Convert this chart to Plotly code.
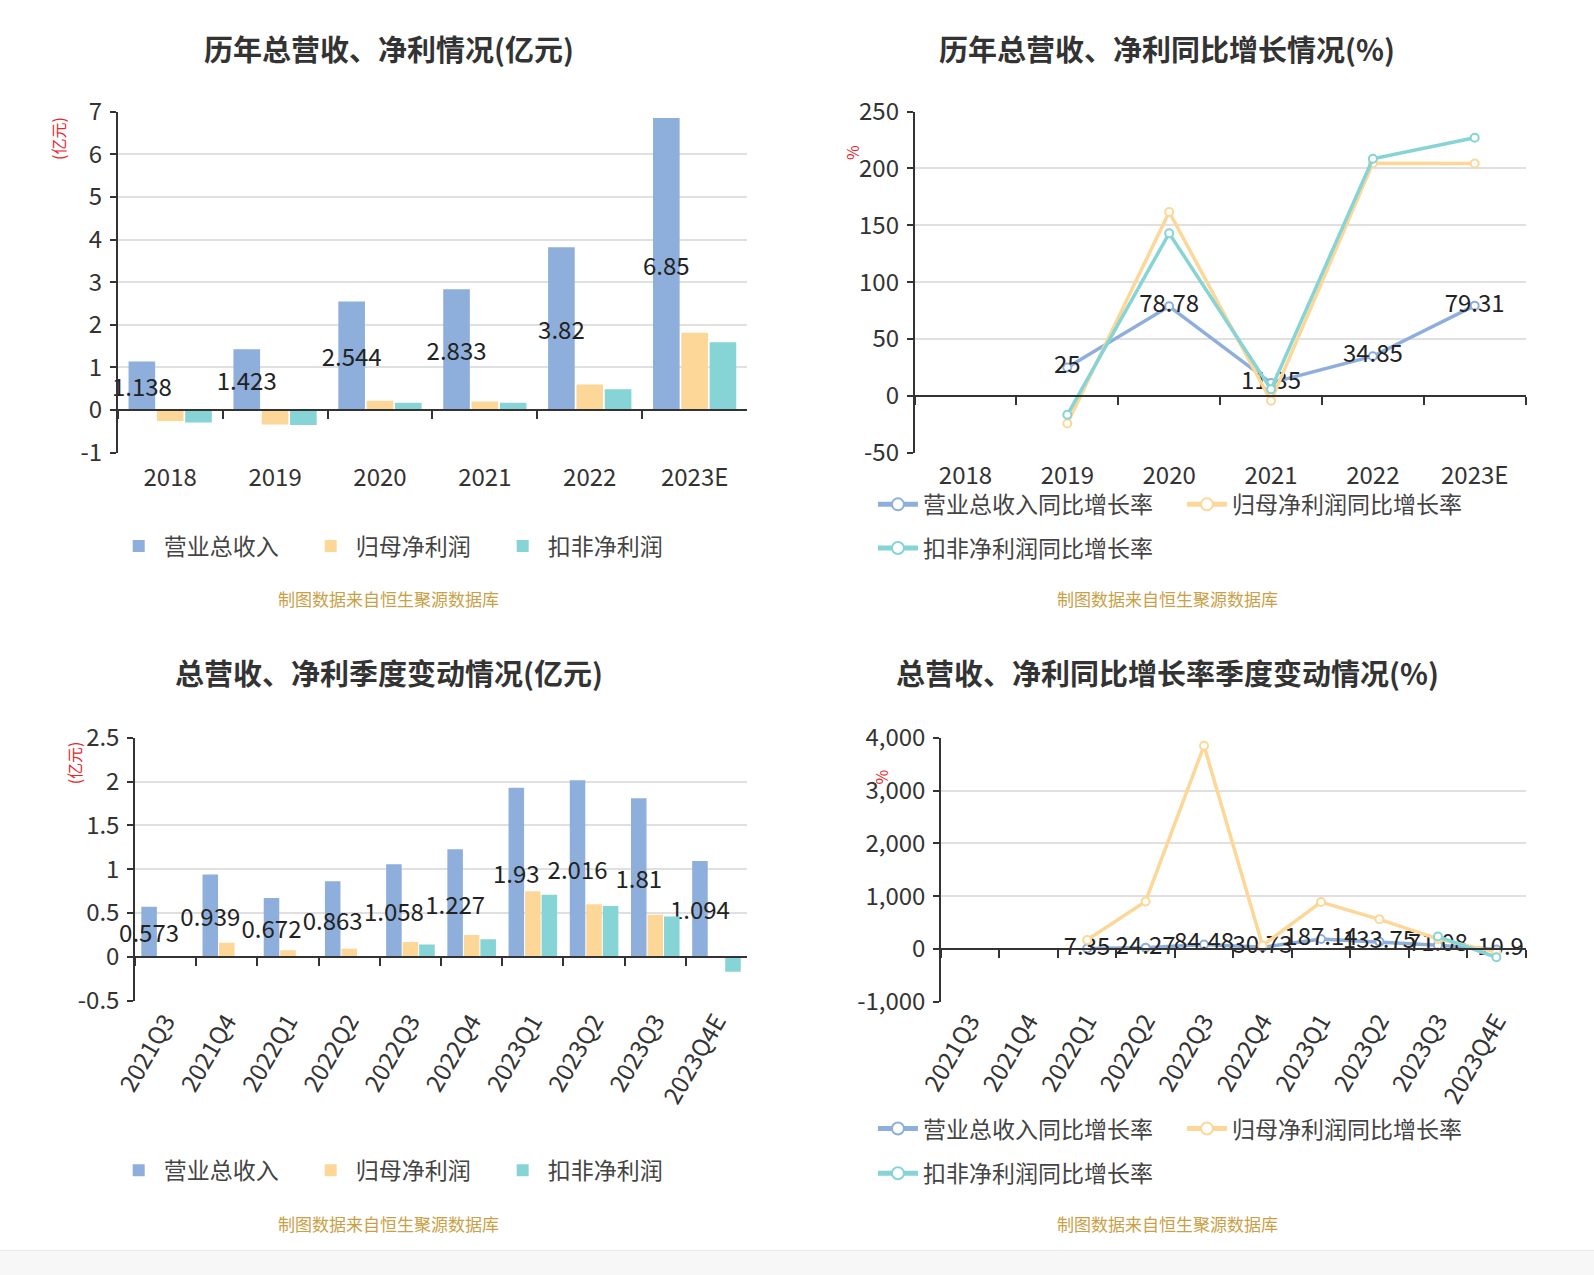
import plotly.graph_objects as go

# ---------------- data ----------------
years = ["2018", "2019", "2020", "2021", "2022", "2023E"]
rev_year = [1.138, 1.423, 2.544, 2.833, 3.82, 6.85]
np_year = [-0.26, -0.34, 0.22, 0.20, 0.60, 1.81]
dnp_year = [-0.29, -0.35, 0.17, 0.17, 0.49, 1.59]

rev_year_g = [None, 25, 78.78, 11.35, 34.85, 79.31]
np_year_g = [None, -24.3, 161.7, -4.4, 204.7, 204.4]
dnp_year_g = [None, -16.7, 143.0, 5.8, 208.5, 227.0]

quarters = ["2021Q3", "2021Q4", "2022Q1", "2022Q2", "2022Q3", "2022Q4",
            "2023Q1", "2023Q2", "2023Q3", "2023Q4E"]
rev_q = [0.573, 0.939, 0.672, 0.863, 1.058, 1.227, 1.93, 2.016, 1.81, 1.094]
np_q = [0.0, 0.16, 0.075, 0.094, 0.17, 0.25, 0.75, 0.60, 0.48, -0.01]
dnp_q = [0.0, 0.0, 0.0, 0.0, 0.14, 0.20, 0.71, 0.58, 0.46, -0.17]

rev_q_g = [None, None, 7.35, 24.27, 84.48, 30.73, 187.14, 133.75, 71.08, -10.9]
np_q_g = [None, None, 169, 900, 3850, 64, 888, 561, 190, -60]
dnp_q_g = [None, None, None, None, None, None, None, None, 235, -158]

bar_names = ["营业总收入", "归母净利润", "扣非净利润"]
line_names = ["营业总收入同比增长率", "归母净利润同比增长率", "扣非净利润同比增长率"]

ytl_vals = [-1, 0, 1, 2, 3, 4, 5, 6, 7]
ytl_text = ["-1", "0", "1", "2", "3", "4", "5", "6", "7"]
ytr_vals = [-50, 0, 50, 100, 150, 200, 250]
ytr_text = ["-50", "0", "50", "100", "150", "200", "250"]
ybl_vals = [-0.5, 0, 0.5, 1, 1.5, 2, 2.5]
ybl_text = ["-0.5", "0", "0.5", "1", "1.5", "2", "2.5"]
ybr_vals = [-1000, 0, 1000, 2000, 3000, 4000]
ybr_text = ["-1,000", "0", "1,000", "2,000", "3,000", "4,000"]

titles = ["历年总营收、净利情况(亿元)", "历年总营收、净利同比增长情况(%)",
          "总营收、净利季度变动情况(亿元)", "总营收、净利同比增长率季度变动情况(%)"]
source = "制图数据来自恒生聚源数据库"

# ---------------- style ----------------
W, H = 1618, 1294          # page size (rendered slightly scaled down)
RW, RH = 1594, 1275        # reference pixel frame used for placement
COLORS = ["#8eaedb", "#fdd798", "#86d4d6"]
FONT = "Noto Sans CJK SC, sans-serif"
AX = "#333333"
GRID = "#e0e0e0"
TICKF = dict(family=FONT, size=24, color="#333")
LABF = dict(family=FONT, size=24, color="#222")


def fx(px):
    return px / RW


def fy(py):
    return 1 - py / RH


fig = go.Figure()

# top-left bars
for name, vals, c in zip(bar_names, [rev_year, np_year, dnp_year], COLORS):
    kw = {}
    if name == bar_names[0]:
        kw = dict(text=[f"{v:g}" for v in vals], textposition="inside",
                  insidetextanchor="middle", textangle=0, constraintext="none",
                  textfont=LABF, insidetextfont=LABF)
    fig.add_trace(go.Bar(x=years, y=vals, name=name, marker=dict(color=c, line=dict(width=0)),
                         cliponaxis=False, xaxis="x", yaxis="y", legend="legend", **kw))

# top-right lines
legs_top = ["legend2", "legend2", "legend5"]
for i, (name, vals, c) in enumerate(zip(line_names, [rev_year_g, np_year_g, dnp_year_g], COLORS)):
    kw = {}
    mode = "lines+markers"
    if i == 0:
        mode = "lines+markers+text"
        kw = dict(text=[("" if v is None else f"{v:g}") for v in vals],
                  textposition="middle center", textfont=LABF)
    fig.add_trace(go.Scatter(x=years, y=vals, name=name, mode=mode,
                             line=dict(color=c, width=3.5),
                             marker=dict(symbol="circle", size=8, color="white",
                                         line=dict(color=c, width=2)),
                             cliponaxis=False,
                             xaxis="x2", yaxis="y2", legend=legs_top[i], **kw))

# bottom-left bars
for name, vals, c in zip(bar_names, [rev_q, np_q, dnp_q], COLORS):
    kw = {}
    if name == bar_names[0]:
        kw = dict(text=[f"{v:g}" for v in vals], textposition="inside",
                  insidetextanchor="middle", textangle=0, constraintext="none",
                  textfont=LABF, insidetextfont=LABF)
    fig.add_trace(go.Bar(x=quarters, y=vals, name=name, marker=dict(color=c, line=dict(width=0)),
                         cliponaxis=False, xaxis="x3", yaxis="y3", legend="legend3", **kw))

# bottom-right lines
legs_bot = ["legend4", "legend4", "legend6"]
for i, (name, vals, c) in enumerate(zip(line_names, [rev_q_g, np_q_g, dnp_q_g], COLORS)):
    kw = {}
    mode = "lines+markers"
    if i == 0:
        mode = "lines+markers+text"
        kw = dict(text=[("" if v is None else f"{v:g}") for v in vals],
                  textposition="middle center", textfont=LABF)
    fig.add_trace(go.Scatter(x=quarters, y=vals, name=name, mode=mode,
                             line=dict(color=c, width=3.5),
                             marker=dict(symbol="circle", size=8, color="white",
                                         line=dict(color=c, width=2)),
                             cliponaxis=True,
                             xaxis="x4", yaxis="y4", legend=legs_bot[i], **kw))


# ---------------- axes ----------------
def xaxis(px0, px1, zero_py, n, angle=0, standoff=40):
    return dict(domain=[fx(px0), fx(px1)], anchor="free", position=fy(zero_py),
                type="category", range=[-0.5, n - 0.5], tickson="boundaries",
                ticks="outside", ticklen=8, tickwidth=1.5, tickcolor=AX,
                showline=True, linecolor=AX, linewidth=1.5, showgrid=False,
                zeroline=False, tickfont=TICKF, tickangle=angle,
                ticklabelstandoff=standoff, automargin=False, fixedrange=True)


def yaxis(anchor, py0, py1, rng, vals, text):
    return dict(domain=[fy(py1), fy(py0)], anchor=anchor, range=rng,
                tickvals=vals, ticktext=text, ticks="outside", ticklen=6,
                tickwidth=1.5, tickcolor=AX, showline=True, linecolor=AX,
                linewidth=1.5, showgrid=True, gridcolor=GRID, gridwidth=1.5,
                zeroline=False, tickfont=TICKF, ticklabelstandoff=3,
                automargin=False, fixedrange=True)


def legend(px, py, ew):
    return dict(x=fx(px), y=fy(py), xanchor="left", yanchor="middle", orientation="h",
                font=dict(family=FONT, size=23, color="#444"), entrywidth=ew,
                entrywidthmode="pixels", bgcolor="rgba(0,0,0,0)", itemwidth=40,
                itemsizing="constant", traceorder="normal", tracegroupgap=0)


annotations = []
for txt, cx, cy in zip(titles, [383, 1150, 383, 1150], [47, 47, 662, 662]):
    annotations.append(dict(text=f"<b>{txt}</b>", x=fx(cx), y=fy(cy), xref="paper", yref="paper",
                            showarrow=False, font=dict(family=FONT, size=29, color="#333"),
                            xanchor="center", yanchor="middle"))
for cx, cy in [(383, 590), (1150, 590), (383, 1206), (1150, 1206)]:
    annotations.append(dict(text=source, x=fx(cx), y=fy(cy), xref="paper", yref="paper",
                            showarrow=False, font=dict(family=FONT, size=17, color="#c9a045"),
                            xanchor="center", yanchor="middle"))
for txt, cx, cy in [("(亿元)", 57, 136), ("%", 840, 150), ("(亿元)", 73, 752), ("%", 868, 766)]:
    annotations.append(dict(text=txt, x=fx(cx), y=fy(cy), xref="paper", yref="paper",
                            showarrow=False, textangle=-90,
                            font=dict(family=FONT, size=16, color="#e8262a"),
                            xanchor="center", yanchor="middle"))

fig.update_layout(
    width=W, height=H, margin=dict(l=0, r=0, t=0, b=0, autoexpand=False),
    paper_bgcolor="#ffffff", plot_bgcolor="#ffffff",
    barmode="group", bargap=0.19, bargroupgap=0.06,
    showlegend=True,
    xaxis=xaxis(116, 736, 404, 6, 0, 46),
    yaxis=yaxis("x", 110, 446, [-1, 7], ytl_vals, ytl_text),
    xaxis2=xaxis(901, 1503, 390, 6, 0, 59),
    yaxis2=yaxis("x2", 110, 446, [-50, 250], ytr_vals, ytr_text),
    xaxis3=xaxis(133, 736, 943, 10, -60, 40),
    yaxis3=yaxis("x3", 727, 986, [-0.5, 2.5], ybl_vals, ybl_text),
    xaxis4=xaxis(927, 1503, 935, 10, -60, 48),
    yaxis4=yaxis("x4", 727, 987, [-1000, 4000], ybr_vals, ybr_text),
    legend=legend(112, 538, 137),
    legend2=legend(860, 497, 254),
    legend5=legend(860, 540, 254),
    legend3=legend(112, 1153, 137),
    legend4=legend(860, 1112, 254),
    legend6=legend(860, 1156, 254),
    annotations=annotations,
    shapes=[dict(type="rect", xref="paper", yref="paper", x0=0, x1=1, y0=-0.05, y1=fy(1232),
                 fillcolor="#f7f7f7", line=dict(width=0), layer="below"),
            dict(type="line", xref="paper", yref="paper", x0=0, x1=1, y0=fy(1232), y1=fy(1232),
                 line=dict(color="#e8e8e8", width=1), layer="below")],
)

fig.write_html("out.html", config={"displayModeBar": False},
               post_script="document.body.style.margin='0px';document.body.style.overflow='hidden';")
